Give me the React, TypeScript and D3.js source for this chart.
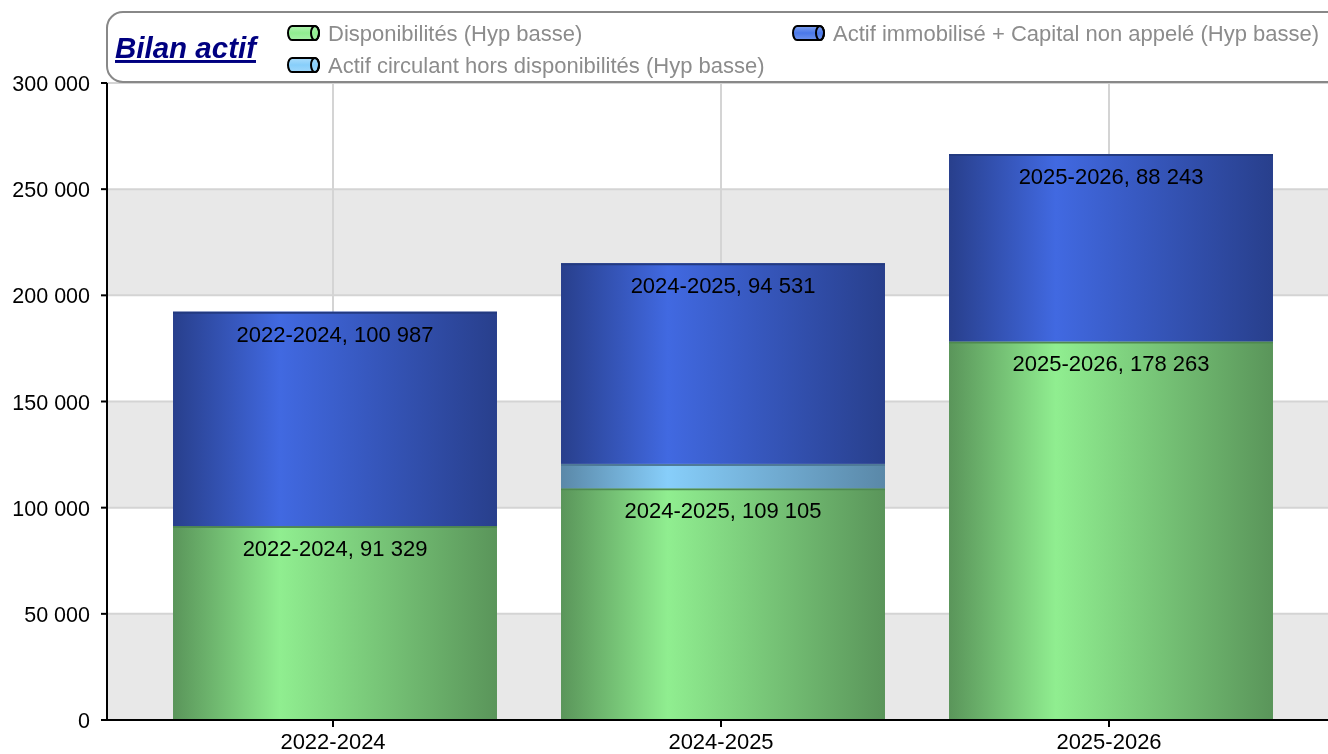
import * as d3 from "d3";

const categories = ["2022-2024", "2024-2025", "2025-2026"];
const disponibilites = [91329, 109105, 178263];
const actifCirculant = [0, 11500, 0];
const actifImmobilise = [100987, 94531, 88243];
const yTicks = [0, 50000, 100000, 150000, 200000, 250000, 300000];

const seriesNames = [
  "Disponibilités (Hyp basse)",
  "Actif circulant hors disponibilités (Hyp basse)",
  "Actif immobilisé + Capital non appelé (Hyp basse)",
];

const W = 1328;
const H = 754;
const left = 107;
const top = 83;
const bottom = 720;

const fmt = (v: number) => d3.format(",")(v).replace(/,/g, " ");

const palettes = [
  { id: "gGreen", edge: "#5a955a", mid: "#90ee90", line: "#4f8a4f", icon: "#90ee90" },
  { id: "gSky", edge: "#5a88a8", mid: "#87cefa", line: "#4f7a98", icon: "#87cefa" },
  { id: "gBlue", edge: "#283f8c", mid: "#4169e1", line: "#233a80", icon: "#4a78e8" },
];

export default function App() {
  const x = d3
    .scaleBand()
    .domain(categories)
    .range([141, 1305])
    .paddingInner(0.165)
    .paddingOuter(0.0825);
  const y = d3.scaleLinear().domain([0, 300000]).range([bottom, top]);
  const centers = [333, 721, 1109];

  const stack = d3
    .stack<number>()
    .keys(["0", "1", "2"])
    .value((i, k) => [disponibilites, actifCirculant, actifImmobilise][+k][i]);
  const layers = stack(categories.map((_, i) => i));

  const font = "Liberation Sans, Arial, sans-serif";

  const legendPos = [
    { x: 287, y: 33 },
    { x: 287, y: 65 },
    { x: 792, y: 33 },
  ];

  return (
    <div style={{ position: "fixed", left: 0, top: 0 }}>
      <svg width={W} height={H} style={{ display: "block", fontFamily: font }}>
        <defs>
          {palettes.map((p) => (
            <linearGradient key={p.id} id={p.id} x1="0" x2="1" y1="0" y2="0">
              <stop offset="0" stopColor={p.edge} />
              <stop offset="0.33" stopColor={p.mid} />
              <stop offset="1" stopColor={p.edge} />
            </linearGradient>
          ))}
          {palettes.map((p) => (
            <linearGradient key={p.id + "i"} id={p.id + "i"} x1="0" x2="0" y1="0" y2="1">
              <stop offset="0" stopColor={p.icon} stopOpacity={0.7} />
              <stop offset="0.5" stopColor={p.icon} />
              <stop offset="1" stopColor={p.icon} stopOpacity={0.8} />
            </linearGradient>
          ))}
        </defs>

        {/* bandes alternées */}
        {yTicks.slice(0, -1).map((t, i) =>
          i % 2 === 0 ? (
            <rect
              key={"band" + t}
              x={left}
              y={y(yTicks[i + 1])}
              width={W - left}
              height={y(t) - y(yTicks[i + 1])}
              fill="#e8e8e8"
            />
          ) : null
        )}
        {yTicks.map((t) => (
          <line key={"hg" + t} x1={left} x2={W} y1={y(t)} y2={y(t)} stroke="#d4d4d4" strokeWidth={2} />
        ))}
        {categories.map((c, i) => (
          <line
            key={"vg" + c}
            x1={centers[i]}
            x2={centers[i]}
            y1={top}
            y2={bottom}
            stroke="#d4d4d4"
            strokeWidth={2}
          />
        ))}

        {/* barres */}
        {layers.map((layer, si) =>
          layer.map((d, i) => {
            if (d[1] - d[0] <= 0) return null;
            const bx = x(categories[i])!;
            return (
              <g key={si + "-" + i}>
                <rect
                  x={bx}
                  y={y(d[1])}
                  width={x.bandwidth()}
                  height={y(d[0]) - y(d[1])}
                  fill={`url(#${palettes[si].id})`}
                />
                <line
                  x1={bx}
                  x2={bx + x.bandwidth()}
                  y1={y(d[1]) + 1}
                  y2={y(d[1]) + 1}
                  stroke={palettes[si].line}
                  strokeWidth={2}
                />
              </g>
            );
          })
        )}

        {/* étiquettes */}
        {layers.map((layer, si) =>
          si === 1
            ? null
            : layer.map((d, i) => (
                <text
                  key={"lab" + si + i}
                  x={x(categories[i])! + x.bandwidth() / 2}
                  y={y(d[1]) + 30}
                  textAnchor="middle"
                  fontSize={22}
                  fill="#000"
                >
                  {categories[i]}, {fmt(d[1] - d[0])}
                </text>
              ))
        )}

        {/* axes */}
        <line x1={left} x2={left} y1={top} y2={bottom} stroke="#000" strokeWidth={2} />
        <line x1={left} x2={W} y1={bottom} y2={bottom} stroke="#000" strokeWidth={2} />
        {yTicks.map((t) => (
          <g key={"yt" + t}>
            <line x1={left - 6} x2={left} y1={y(t)} y2={y(t)} stroke="#000" strokeWidth={2} />
            <text x={90} y={y(t) + 8} textAnchor="end" fontSize={21.5} fill="#000">
              {fmt(t)}
            </text>
          </g>
        ))}
        {categories.map((c, i) => (
          <g key={"xt" + c}>
            <line
              x1={centers[i]}
              x2={centers[i]}
              y1={bottom}
              y2={bottom + 7}
              stroke="#000"
              strokeWidth={2}
            />
            <text x={centers[i]} y={749} textAnchor="middle" fontSize={22} fill="#000">
              {c}
            </text>
          </g>
        ))}

        {/* cadre légende + titre */}
        <rect x={left} y={12} width={W} height={70} rx={16} fill="#fff" stroke="#888" strokeWidth={2} />
        <text
          x={115}
          y={58}
          fontSize={29.5}
          fontWeight="bold"
          fontStyle="italic"
          fill="#000080"
          textDecoration="underline"
        >
          Bilan actif
        </text>
        {seriesNames.map((n, i) => {
          const p = legendPos[i];
          return (
            <g key={"leg" + i}>
              <path
                d={`M${p.x + 5},${p.y - 7} L${p.x + 28},${p.y - 7} A4,7 0 0 1 ${p.x + 28},${p.y + 7} L${p.x + 5},${p.y + 7} A4,7 0 0 1 ${p.x + 5},${p.y - 7} Z`}
                fill={`url(#${palettes[i].id}i)`}
                stroke="#000"
                strokeWidth={2}
              />
              <ellipse cx={p.x + 28} cy={p.y} rx={4} ry={7} fill="none" stroke="#000" strokeWidth={2} />
              <text x={p.x + 41} y={p.y + 8} fontSize={22} fill="#8c8c8c">
                {n}
              </text>
            </g>
          );
        })}
      </svg>
    </div>
  );
}
